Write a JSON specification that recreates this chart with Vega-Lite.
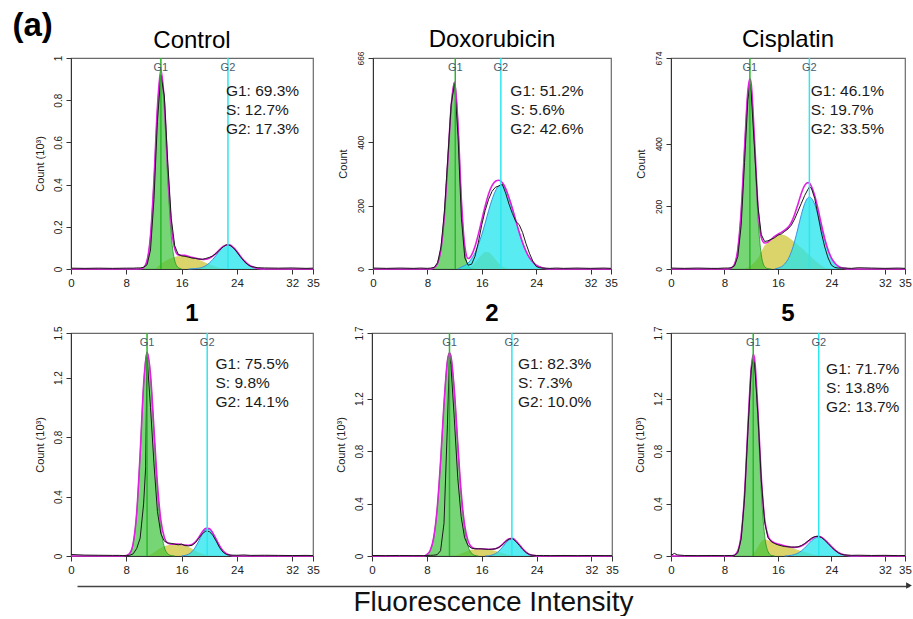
{
"$schema": "https://vega.github.io/schema/vega-lite/v6.json",
"padding": {"left": 12, "top": 10, "right": 0, "bottom": 0},
"title": {"text": "(a)", "anchor": "start", "frame": "bounds", "fontSize": 33, "fontWeight": "bold", "offset": -16, "dx": -21, "color": "#000"},
"config": {
 "font": "Liberation Sans",
 "view": {"stroke": "#6a6a6a", "strokeWidth": 1.2},
 "axis": {"grid": false, "domainColor": "#333", "tickColor": "#333", "labelColor": "#222", "titleColor": "#222", "tickSize": 5, "labelSeparation": -100},
 "axisX": {"labelFontSize": 11.5, "labelPadding": 3},
 "axisY": {"labelAngle": -90, "labelFontSize": 10, "labelPadding": 3, "titleFontSize": 11, "titleFontWeight": "normal", "titlePadding": 8},
 "title": {"color": "#000"}
},
"datasets": {
"h": [
{"p":"C","x":0,"f":0,"o":0.004},
{"p":"C","x":2,"o":0.003},
{"p":"C","x":4,"o":0.004},
{"p":"C","x":6,"o":0.003},
{"p":"C","x":8,"o":0.004},
{"p":"C","x":9,"o":0.004},
{"p":"C","x":9.5,"f":0,"o":0.005},
{"p":"C","x":10,"g":0,"f":0.001,"o":0.005},
{"p":"C","x":10.5,"g":0.007,"f":0.007,"o":0.008},
{"p":"C","x":11,"g":0.04,"f":0.04,"o":0.02},
{"p":"C","x":11.5,"g":0.158,"f":0.158,"o":0.09},
{"p":"C","x":12,"g":0.421,"s":0,"f":0.421,"o":0.33},
{"p":"C","x":12.5,"g":0.757,"s":0.01,"f":0.767,"o":0.7},
{"p":"C","x":13,"g":0.92,"s":0.025,"f":0.945,"o":0.92},
{"p":"C","x":13.5,"g":0.757,"s":0.035,"f":0.792,"o":0.82},
{"p":"C","x":14,"g":0.421,"s":0.045,"f":0.466,"o":0.5},
{"p":"C","x":14.5,"g":0.158,"s":0.052,"f":0.21,"o":0.24},
{"p":"C","x":15,"g":0.04,"s":0.057,"f":0.097,"o":0.11},
{"p":"C","x":15.5,"g":0.007,"s":0.06,"f":0.067,"o":0.07},
{"p":"C","x":16,"g":0,"s":0.065,"f":0.065,"o":0.062},
{"p":"C","x":16.5,"s":0.065,"f":0.065,"o":0.06},
{"p":"C","x":17,"s":0.06,"c":0,"f":0.06,"o":0.056},
{"p":"C","x":17.5,"s":0.055,"c":0.001,"f":0.055,"o":0.052},
{"p":"C","x":18,"s":0.05,"c":0.002,"f":0.052,"o":0.05},
{"p":"C","x":18.5,"s":0.044,"c":0.004,"f":0.048,"o":0.047},
{"p":"C","x":19,"s":0.037,"c":0.008,"f":0.045,"o":0.046},
{"p":"C","x":19.5,"s":0.03,"c":0.016,"f":0.046,"o":0.05},
{"p":"C","x":20,"s":0.023,"c":0.028,"f":0.051,"o":0.055},
{"p":"C","x":20.5,"s":0.016,"c":0.045,"f":0.061,"o":0.062},
{"p":"C","x":21,"s":0.01,"c":0.065,"f":0.075,"o":0.075},
{"p":"C","x":21.5,"s":0.005,"c":0.087,"f":0.092,"o":0.09},
{"p":"C","x":22,"s":0.002,"c":0.105,"f":0.107,"o":0.105},
{"p":"C","x":22.5,"s":0,"c":0.114,"f":0.114,"o":0.115},
{"p":"C","x":23,"c":0.113,"f":0.113,"o":0.112},
{"p":"C","x":23.5,"c":0.101,"f":0.101,"o":0.1},
{"p":"C","x":24,"c":0.083,"f":0.083,"o":0.08},
{"p":"C","x":24.5,"c":0.061,"f":0.061,"o":0.058},
{"p":"C","x":25,"c":0.041,"f":0.041,"o":0.038},
{"p":"C","x":25.5,"c":0.025,"f":0.025,"o":0.022},
{"p":"C","x":26,"c":0.014,"f":0.014,"o":0.012},
{"p":"C","x":27,"c":0.003,"f":0.003,"o":0.006},
{"p":"C","x":28,"c":0,"f":0,"o":0.005},
{"p":"C","x":30,"o":0.004},
{"p":"C","x":32,"o":0.005},
{"p":"C","x":34,"o":0.003},
{"p":"C","x":35,"f":0,"o":0.004},
{"p":"D","x":0,"f":0,"o":3},
{"p":"D","x":2,"o":2},
{"p":"D","x":4,"o":3},
{"p":"D","x":6,"o":2},
{"p":"D","x":7,"o":3},
{"p":"D","x":8,"o":2},
{"p":"D","x":8.5,"g":0,"f":0,"o":3},
{"p":"D","x":9,"g":4,"f":4,"o":5},
{"p":"D","x":9.5,"g":18,"f":18,"o":20},
{"p":"D","x":10,"g":64,"f":64,"o":70},
{"p":"D","x":10.5,"g":170,"f":170,"o":180},
{"p":"D","x":11,"g":339,"f":339,"o":350},
{"p":"D","x":11.5,"g":514,"f":514,"o":520},
{"p":"D","x":12,"g":590,"f":590,"o":585},
{"p":"D","x":12.5,"g":457,"c":0,"f":457,"o":420},
{"p":"D","x":13,"g":212,"s":0,"c":6,"f":218,"o":160},
{"p":"D","x":13.5,"g":60,"s":1,"c":11,"f":72,"o":35},
{"p":"D","x":14,"g":10,"s":4,"c":19,"f":33,"o":12},
{"p":"D","x":14.5,"g":1,"s":10,"c":33,"f":44,"o":15},
{"p":"D","x":15,"g":0,"s":20,"c":51,"f":71,"o":40},
{"p":"D","x":15.5,"s":33,"c":77,"f":110,"o":85},
{"p":"D","x":16,"s":46,"c":109,"f":155,"o":140},
{"p":"D","x":16.5,"s":54,"c":145,"f":199,"o":185},
{"p":"D","x":17,"s":53,"c":184,"f":237,"o":220},
{"p":"D","x":17.5,"s":44,"c":219,"f":263,"o":245},
{"p":"D","x":18,"s":31,"c":246,"f":277,"o":258},
{"p":"D","x":18.5,"s":18,"c":262,"f":280,"o":262},
{"p":"D","x":19,"s":9,"c":264,"f":273,"o":268},
{"p":"D","x":19.5,"s":4,"c":251,"f":255,"o":240},
{"p":"D","x":20,"s":0,"c":225,"f":225,"o":205},
{"p":"D","x":20.5,"c":191,"f":191,"o":175},
{"p":"D","x":21,"c":153,"f":153,"o":150},
{"p":"D","x":21.5,"c":116,"f":116,"o":140},
{"p":"D","x":22,"c":83,"f":83,"o":115},
{"p":"D","x":22.5,"c":56,"f":56,"o":80},
{"p":"D","x":23,"c":36,"f":36,"o":50},
{"p":"D","x":23.5,"c":22,"f":22,"o":25},
{"p":"D","x":24,"c":12,"f":12,"o":8},
{"p":"D","x":24.5,"c":7,"f":7,"o":4},
{"p":"D","x":25,"c":3,"f":3,"o":3},
{"p":"D","x":26,"c":0,"f":0,"o":2},
{"p":"D","x":27,"o":3},
{"p":"D","x":28,"o":2},
{"p":"D","x":30,"o":3},
{"p":"D","x":32,"o":2},
{"p":"D","x":34,"o":3},
{"p":"D","x":35,"f":0,"o":2},
{"p":"X","x":0,"f":0,"o":3},
{"p":"X","x":2,"o":2},
{"p":"X","x":4,"o":3},
{"p":"X","x":6,"o":2},
{"p":"X","x":7,"o":2},
{"p":"X","x":8,"o":3},
{"p":"X","x":8.5,"g":0,"f":0,"o":3},
{"p":"X","x":9,"g":3,"f":3,"o":4},
{"p":"X","x":9.5,"g":15,"f":15,"o":10},
{"p":"X","x":10,"g":64,"f":64,"o":40},
{"p":"X","x":10.5,"g":186,"f":186,"o":140},
{"p":"X","x":11,"g":385,"s":0,"f":385,"o":340},
{"p":"X","x":11.5,"g":564,"s":5,"f":569,"o":540},
{"p":"X","x":11.8,"g":600,"s":8,"f":608,"o":590},
{"p":"X","x":12,"g":579,"s":12,"f":591,"o":560},
{"p":"X","x":12.5,"g":388,"s":22,"f":410,"o":380},
{"p":"X","x":13,"g":167,"s":35,"f":202,"o":200},
{"p":"X","x":13.5,"g":46,"s":55,"f":101,"o":110},
{"p":"X","x":14,"g":8,"s":75,"f":83,"o":88},
{"p":"X","x":14.5,"g":1,"s":85,"f":86,"o":90},
{"p":"X","x":15,"g":0,"s":95,"f":95,"o":95},
{"p":"X","x":15.5,"s":103,"c":0,"f":104,"o":100},
{"p":"X","x":16,"s":108,"c":3,"f":111,"o":108},
{"p":"X","x":16.5,"s":110,"c":7,"f":117,"o":112},
{"p":"X","x":17,"s":108,"c":16,"f":124,"o":120},
{"p":"X","x":17.5,"s":102,"c":31,"f":133,"o":128},
{"p":"X","x":18,"s":94,"c":55,"f":149,"o":140},
{"p":"X","x":18.5,"s":86,"c":89,"f":175,"o":160},
{"p":"X","x":19,"s":77,"c":131,"f":208,"o":185},
{"p":"X","x":19.5,"s":68,"c":174,"f":242,"o":210},
{"p":"X","x":20,"s":58,"c":209,"f":267,"o":235},
{"p":"X","x":20.5,"s":48,"c":228,"f":276,"o":255},
{"p":"X","x":20.7,"s":45,"c":230,"f":275,"o":262},
{"p":"X","x":21,"s":38,"c":226,"f":264,"o":258},
{"p":"X","x":21.5,"s":28,"c":206,"f":234,"o":225},
{"p":"X","x":22,"s":19,"c":172,"f":191,"o":170},
{"p":"X","x":22.5,"s":11,"c":131,"f":142,"o":115},
{"p":"X","x":23,"s":5,"c":92,"f":97,"o":70},
{"p":"X","x":23.5,"s":2,"c":59,"f":61,"o":35},
{"p":"X","x":24,"s":0,"c":35,"f":35,"o":12},
{"p":"X","x":24.5,"c":19,"f":19,"o":5},
{"p":"X","x":25,"c":9,"f":9,"o":3},
{"p":"X","x":25.5,"c":4,"f":4,"o":3},
{"p":"X","x":26,"c":2,"f":2,"o":3},
{"p":"X","x":26.5,"c":0,"f":0},
{"p":"X","x":27,"o":2},
{"p":"X","x":28,"o":4},
{"p":"X","x":30,"o":3},
{"p":"X","x":32,"o":2},
{"p":"X","x":34,"o":3},
{"p":"X","x":35,"f":0,"o":2},
{"p":"1","x":0,"f":0,"o":0.01},
{"p":"1","x":1,"o":0.008},
{"p":"1","x":2,"o":0.006},
{"p":"1","x":4,"o":0.005},
{"p":"1","x":6,"o":0.004},
{"p":"1","x":7,"o":0.004},
{"p":"1","x":7.5,"g":0,"f":0,"o":0.003},
{"p":"1","x":8,"g":0.003,"f":0.003,"o":0.003},
{"p":"1","x":8.5,"g":0.018,"f":0.018,"o":0.005},
{"p":"1","x":9,"g":0.086,"f":0.086,"o":0.015},
{"p":"1","x":9.5,"g":0.289,"f":0.289,"o":0.05},
{"p":"1","x":10,"g":0.686,"f":0.686,"o":0.12},
{"p":"1","x":10.5,"g":1.152,"f":1.152,"o":0.35},
{"p":"1","x":10.8,"o":0.6},
{"p":"1","x":11,"g":1.37,"s":0,"f":1.37,"o":1.34},
{"p":"1","x":11.5,"g":1.209,"s":0.01,"f":1.219,"o":1.0},
{"p":"1","x":12,"g":0.831,"s":0.025,"f":0.856,"o":0.62},
{"p":"1","x":12.5,"g":0.445,"s":0.04,"f":0.485,"o":0.3},
{"p":"1","x":13,"g":0.185,"s":0.055,"f":0.24,"o":0.15},
{"p":"1","x":13.5,"g":0.06,"s":0.065,"f":0.125,"o":0.1},
{"p":"1","x":14,"g":0.015,"s":0.072,"f":0.087,"o":0.088},
{"p":"1","x":14.5,"g":0.003,"s":0.077,"f":0.08,"o":0.085},
{"p":"1","x":15,"g":0,"s":0.08,"f":0.08,"o":0.08},
{"p":"1","x":15.5,"s":0.08,"f":0.08,"o":0.075},
{"p":"1","x":16,"s":0.077,"c":0,"f":0.077,"o":0.08},
{"p":"1","x":16.5,"s":0.07,"c":0.004,"f":0.074,"o":0.07},
{"p":"1","x":17,"s":0.06,"c":0.012,"f":0.072,"o":0.068},
{"p":"1","x":17.5,"s":0.048,"c":0.029,"f":0.077,"o":0.072},
{"p":"1","x":18,"s":0.035,"c":0.06,"f":0.095,"o":0.09},
{"p":"1","x":18.5,"s":0.024,"c":0.103,"f":0.127,"o":0.12},
{"p":"1","x":19,"s":0.015,"c":0.148,"f":0.163,"o":0.15},
{"p":"1","x":19.5,"s":0.008,"c":0.179,"f":0.187,"o":0.168},
{"p":"1","x":20,"s":0.003,"c":0.182,"f":0.185,"o":0.165},
{"p":"1","x":20.5,"s":0,"c":0.156,"f":0.156,"o":0.14},
{"p":"1","x":21,"c":0.112,"f":0.112,"o":0.1},
{"p":"1","x":21.5,"c":0.068,"f":0.068,"o":0.055},
{"p":"1","x":22,"c":0.034,"f":0.034,"o":0.025},
{"p":"1","x":22.5,"c":0.015,"f":0.015,"o":0.01},
{"p":"1","x":23,"c":0.005,"f":0.005,"o":0.006},
{"p":"1","x":23.5,"c":0,"f":0},
{"p":"1","x":24,"o":0.005},
{"p":"1","x":25,"o":0.007},
{"p":"1","x":26,"o":0.004},
{"p":"1","x":28,"o":0.005},
{"p":"1","x":30,"o":0.004},
{"p":"1","x":32,"o":0.003},
{"p":"1","x":34,"o":0.004},
{"p":"1","x":35,"f":0,"o":0.003},
{"p":"2","x":0,"f":0,"o":0.004},
{"p":"2","x":2,"o":0.003},
{"p":"2","x":4,"o":0.004},
{"p":"2","x":6,"o":0.003},
{"p":"2","x":7,"o":0.003},
{"p":"2","x":7.5,"g":0,"f":0,"o":0.003},
{"p":"2","x":8,"g":0.011,"f":0.011,"o":0.004},
{"p":"2","x":8.5,"g":0.044,"f":0.044,"o":0.005},
{"p":"2","x":9,"g":0.141,"f":0.141,"o":0.006},
{"p":"2","x":9.5,"g":0.357,"f":0.357,"o":0.01},
{"p":"2","x":10,"g":0.72,"f":0.72,"o":0.04},
{"p":"2","x":10.5,"g":1.16,"f":1.16,"o":0.25},
{"p":"2","x":11,"g":1.488,"f":1.488,"o":1.0},
{"p":"2","x":11.3,"g":1.55,"f":1.55,"o":1.52},
{"p":"2","x":11.5,"g":1.525,"f":1.525,"o":1.46},
{"p":"2","x":12,"g":1.266,"s":0,"f":1.266,"o":1.05},
{"p":"2","x":12.5,"g":0.855,"s":0.01,"f":0.865,"o":0.6},
{"p":"2","x":13,"g":0.47,"s":0.02,"f":0.49,"o":0.3},
{"p":"2","x":13.5,"g":0.21,"s":0.03,"f":0.24,"o":0.14},
{"p":"2","x":14,"g":0.076,"s":0.04,"f":0.116,"o":0.08},
{"p":"2","x":14.5,"g":0.022,"s":0.048,"f":0.07,"o":0.06},
{"p":"2","x":15,"g":0.005,"s":0.052,"f":0.057,"o":0.055},
{"p":"2","x":15.5,"g":0,"s":0.055,"f":0.055,"o":0.055},
{"p":"2","x":16,"s":0.055,"f":0.055,"o":0.054},
{"p":"2","x":16.5,"s":0.053,"c":0,"f":0.053,"o":0.052},
{"p":"2","x":17,"s":0.05,"c":0.002,"f":0.052,"o":0.05},
{"p":"2","x":17.5,"s":0.045,"c":0.007,"f":0.052,"o":0.052},
{"p":"2","x":18,"s":0.038,"c":0.018,"f":0.056,"o":0.055},
{"p":"2","x":18.5,"s":0.03,"c":0.037,"f":0.067,"o":0.065},
{"p":"2","x":19,"s":0.022,"c":0.066,"f":0.088,"o":0.085},
{"p":"2","x":19.5,"s":0.015,"c":0.098,"f":0.113,"o":0.11},
{"p":"2","x":20,"s":0.009,"c":0.123,"f":0.132,"o":0.13},
{"p":"2","x":20.5,"s":0.004,"c":0.13,"f":0.134,"o":0.132},
{"p":"2","x":21,"s":0,"c":0.115,"f":0.115,"o":0.11},
{"p":"2","x":21.5,"c":0.085,"f":0.085,"o":0.08},
{"p":"2","x":22,"c":0.053,"f":0.053,"o":0.05},
{"p":"2","x":22.5,"c":0.028,"f":0.028,"o":0.025},
{"p":"2","x":23,"c":0.012,"f":0.012,"o":0.01},
{"p":"2","x":23.5,"c":0.005,"f":0.005,"o":0.005},
{"p":"2","x":24,"c":0.001,"f":0.001,"o":0.004},
{"p":"2","x":24.5,"c":0,"f":0},
{"p":"2","x":25,"o":0.004},
{"p":"2","x":26,"o":0.003},
{"p":"2","x":28,"o":0.004},
{"p":"2","x":30,"o":0.003},
{"p":"2","x":32,"o":0.004},
{"p":"2","x":34,"o":0.003},
{"p":"2","x":35,"f":0,"o":0.003},
{"p":"5","x":0,"f":0,"o":0.005},
{"p":"5","x":0.5,"o":0.02},
{"p":"5","x":1,"o":0.008},
{"p":"5","x":2,"o":0.004},
{"p":"5","x":4,"o":0.003},
{"p":"5","x":6,"o":0.004},
{"p":"5","x":8,"o":0.003},
{"p":"5","x":9,"g":0,"f":0,"o":0.004},
{"p":"5","x":9.5,"g":0.007,"f":0.007,"o":0.005},
{"p":"5","x":10,"g":0.039,"f":0.039,"o":0.025},
{"p":"5","x":10.5,"g":0.161,"f":0.161,"o":0.13},
{"p":"5","x":11,"g":0.471,"f":0.471,"o":0.44},
{"p":"5","x":11.5,"g":0.976,"f":0.976,"o":0.95},
{"p":"5","x":12,"g":1.429,"s":0,"f":1.429,"o":1.42},
{"p":"5","x":12.3,"g":1.52,"s":0.018,"f":1.538,"o":1.5},
{"p":"5","x":12.5,"g":1.473,"s":0.03,"f":1.503,"o":1.46},
{"p":"5","x":13,"g":1.037,"s":0.07,"f":1.107,"o":1.08},
{"p":"5","x":13.5,"g":0.494,"s":0.11,"f":0.604,"o":0.58},
{"p":"5","x":14,"g":0.159,"s":0.125,"f":0.284,"o":0.26},
{"p":"5","x":14.5,"g":0.035,"s":0.12,"f":0.155,"o":0.14},
{"p":"5","x":15,"g":0.005,"s":0.11,"f":0.115,"o":0.11},
{"p":"5","x":15.5,"g":0,"s":0.1,"f":0.1,"o":0.095},
{"p":"5","x":16,"s":0.092,"f":0.092,"o":0.085},
{"p":"5","x":16.5,"s":0.085,"f":0.085,"o":0.078},
{"p":"5","x":17,"s":0.078,"c":0,"f":0.078,"o":0.072},
{"p":"5","x":17.5,"s":0.07,"c":0.002,"f":0.072,"o":0.07},
{"p":"5","x":18,"s":0.062,"c":0.005,"f":0.067,"o":0.068},
{"p":"5","x":18.5,"s":0.054,"c":0.012,"f":0.066,"o":0.068},
{"p":"5","x":19,"s":0.046,"c":0.022,"f":0.068,"o":0.07},
{"p":"5","x":19.5,"s":0.038,"c":0.039,"f":0.077,"o":0.08},
{"p":"5","x":20,"s":0.03,"c":0.061,"f":0.091,"o":0.095},
{"p":"5","x":20.5,"s":0.023,"c":0.088,"f":0.111,"o":0.115},
{"p":"5","x":21,"s":0.016,"c":0.115,"f":0.131,"o":0.135},
{"p":"5","x":21.5,"s":0.01,"c":0.135,"f":0.145,"o":0.148},
{"p":"5","x":22,"s":0.005,"c":0.145,"f":0.15,"o":0.15},
{"p":"5","x":22.5,"s":0.002,"c":0.141,"f":0.143,"o":0.142},
{"p":"5","x":23,"s":0,"c":0.124,"f":0.124,"o":0.12},
{"p":"5","x":23.5,"c":0.099,"f":0.099,"o":0.095},
{"p":"5","x":24,"c":0.072,"f":0.072,"o":0.068},
{"p":"5","x":24.5,"c":0.047,"f":0.047,"o":0.045},
{"p":"5","x":25,"c":0.028,"f":0.028,"o":0.025},
{"p":"5","x":25.5,"c":0.015,"f":0.015,"o":0.012},
{"p":"5","x":26,"c":0.007,"f":0.007,"o":0.008},
{"p":"5","x":27,"c":0.001,"f":0.001,"o":0.005},
{"p":"5","x":28,"c":0,"f":0,"o":0.006},
{"p":"5","x":30,"o":0.004},
{"p":"5","x":32,"o":0.005},
{"p":"5","x":34,"o":0.003},
{"p":"5","x":35,"f":0,"o":0.004}
],
"m": [
{"p":"C","k":"G1","x":13},{"p":"C","k":"G2","x":22.7},
{"p":"D","k":"G1","x":12.1},{"p":"D","k":"G2","x":18.8},
{"p":"X","k":"G1","x":11.8},{"p":"X","k":"G2","x":20.7},
{"p":"1","k":"G1","x":11.0},{"p":"1","k":"G2","x":19.7},
{"p":"2","k":"G1","x":11.3},{"p":"2","k":"G2","x":20.4},
{"p":"5","k":"G1","x":12.3},{"p":"5","k":"G2","x":22.1}
],
"a": [
{"p":"C","t":"G1: 69.3%\nS: 12.7%\nG2: 17.3%"},
{"p":"D","t":"G1: 51.2%\nS: 5.6%\nG2: 42.6%"},
{"p":"X","t":"G1: 46.1%\nS: 19.7%\nG2: 33.5%"},
{"p":"1","t":"G1: 75.5%\nS: 9.8%\nG2: 14.1%"},
{"p":"2","t":"G1: 82.3%\nS: 7.3%\nG2: 10.0%"},
{"p":"5","t":"G1: 71.7%\nS: 13.8%\nG2: 13.7%"}
]
},
"vconcat": [
{"vconcat": [
{"hconcat": [
{"width": 242, "height": 211,
 "title": {"text": "Control", "fontSize": 24, "fontWeight": "normal", "offset": 2},
 "layer": [
  {"data": {"name": "h"},
   "transform": [{"filter": "datum.p == 'C'"}, {"fold": ["s","g","c","f","o"], "as": ["k","v"]}, {"filter": "isValid(datum.v)"}],
   "encoding": {
    "x": {"field": "x", "type": "quantitative", "scale": {"domain": [0,35], "nice": false, "zero": false}, "axis": {"title": null, "format": "d", "labelFlush": false, "labelSeparation": -100, "values": [0,8,16,24,32,35]}},
    "y": {"field": "v", "type": "quantitative", "scale": {"domain": [0,1], "nice": false}, "axis": {"title": "Count (10³)", "format": ".1~f", "labelFlush": false, "labelSeparation": -100, "values": [0,0.2,0.4,0.6,0.8,1]}}
   },
   "layer": [
    {"transform": [{"filter": "datum.k == 's'"}], "mark": {"type": "area", "color": "#cdc63a", "opacity": 0.75, "interpolate": "monotone"}},
    {"transform": [{"filter": "datum.k == 'g'"}], "mark": {"type": "area", "color": "#3cc43c", "opacity": 0.7, "interpolate": "monotone", "line": {"color": "#1f8f1f", "strokeWidth": 0.8}}},
    {"transform": [{"filter": "datum.k == 'c'"}], "mark": {"type": "area", "color": "#22e4ee", "opacity": 0.75, "interpolate": "monotone", "line": {"color": "#3a8fe0", "strokeWidth": 1}}},
    {"transform": [{"filter": "datum.k == 'f'"}], "mark": {"type": "line", "color": "#e020e0", "strokeWidth": 1.6, "interpolate": "monotone"}},
    {"transform": [{"filter": "datum.k == 'o'"}], "mark": {"type": "line", "color": "#1a1a1a", "strokeWidth": 1}}
   ]},
  {"data": {"name": "m"},
   "transform": [{"filter": "datum.p == 'C'"}],
   "layer": [
    {"mark": {"type": "rule", "strokeWidth": 1.5}, "encoding": {"x": {"field": "x", "type": "quantitative"}, "color": {"field": "k", "type": "nominal", "scale": {"domain": ["G1","G2"], "range": ["#2ab52a","#2ee6ee"]}, "legend": null}}},
    {"mark": {"type": "text", "baseline": "top", "dy": 4, "fontSize": 11, "color": "#4a5b6e"}, "encoding": {"x": {"field": "x", "type": "quantitative"}, "y": {"datum": 1, "type": "quantitative"}, "text": {"field": "k"}}}
   ]},
  {"data": {"name": "a"},
   "transform": [{"filter": "datum.p == 'C'"}],
   "mark": {"type": "text", "align": "left", "baseline": "alphabetic", "fontSize": 15.5, "lineBreak": "\n", "lineHeight": 19, "color": "#1a1a1a"},
   "encoding": {"x": {"datum": 22.4, "type": "quantitative"}, "y": {"datum": 0.818, "type": "quantitative"}, "text": {"field": "t"}}}
 ]},
{"width": 238, "height": 211,
 "title": {"text": "Doxorubicin", "fontSize": 24, "fontWeight": "normal", "offset": -1},
 "layer": [
  {"data": {"name": "h"},
   "transform": [{"filter": "datum.p == 'D'"}, {"fold": ["s","g","c","f","o"], "as": ["k","v"]}, {"filter": "isValid(datum.v)"}],
   "encoding": {
    "x": {"field": "x", "type": "quantitative", "scale": {"domain": [0,35], "nice": false, "zero": false}, "axis": {"title": null, "format": "d", "labelFlush": false, "labelSeparation": -100, "values": [0,8,16,24,32,35]}},
    "y": {"field": "v", "type": "quantitative", "scale": {"domain": [0,666], "nice": false}, "axis": {"title": "Count", "format": "d", "labelFontSize": 8.5, "labelFlush": false, "labelSeparation": -100, "values": [0,100,200,300,400,500,666]}}
   },
   "layer": [
    {"transform": [{"filter": "datum.k == 's'"}], "mark": {"type": "area", "color": "#cdc63a", "opacity": 0.75, "interpolate": "monotone"}},
    {"transform": [{"filter": "datum.k == 'g'"}], "mark": {"type": "area", "color": "#3cc43c", "opacity": 0.7, "interpolate": "monotone", "line": {"color": "#1f8f1f", "strokeWidth": 0.8}}},
    {"transform": [{"filter": "datum.k == 'c'"}], "mark": {"type": "area", "color": "#22e4ee", "opacity": 0.75, "interpolate": "monotone", "line": {"color": "#3a8fe0", "strokeWidth": 1}}},
    {"transform": [{"filter": "datum.k == 'f'"}], "mark": {"type": "line", "color": "#e020e0", "strokeWidth": 1.6, "interpolate": "monotone"}},
    {"transform": [{"filter": "datum.k == 'o'"}], "mark": {"type": "line", "color": "#1a1a1a", "strokeWidth": 1}}
   ]},
  {"data": {"name": "m"},
   "transform": [{"filter": "datum.p == 'D'"}],
   "layer": [
    {"mark": {"type": "rule", "strokeWidth": 1.5}, "encoding": {"x": {"field": "x", "type": "quantitative"}, "color": {"field": "k", "type": "nominal", "scale": {"domain": ["G1","G2"], "range": ["#2ab52a","#2ee6ee"]}, "legend": null}}},
    {"mark": {"type": "text", "baseline": "top", "dy": 4, "fontSize": 11, "color": "#4a5b6e"}, "encoding": {"x": {"field": "x", "type": "quantitative"}, "y": {"datum": 666, "type": "quantitative"}, "text": {"field": "k"}}}
   ]},
  {"data": {"name": "a"},
   "transform": [{"filter": "datum.p == 'D'"}],
   "mark": {"type": "text", "align": "left", "baseline": "alphabetic", "fontSize": 15.5, "lineBreak": "\n", "lineHeight": 19, "color": "#1a1a1a"},
   "encoding": {"x": {"datum": 20.2, "type": "quantitative"}, "y": {"datum": 547, "type": "quantitative"}, "text": {"field": "t"}}}
 ]},
{"width": 234, "height": 211,
 "title": {"text": "Cisplatin", "fontSize": 24, "fontWeight": "normal", "offset": -1},
 "layer": [
  {"data": {"name": "h"},
   "transform": [{"filter": "datum.p == 'X'"}, {"fold": ["s","g","c","f","o"], "as": ["k","v"]}, {"filter": "isValid(datum.v)"}],
   "encoding": {
    "x": {"field": "x", "type": "quantitative", "scale": {"domain": [0,35], "nice": false, "zero": false}, "axis": {"title": null, "format": "d", "labelFlush": false, "labelSeparation": -100, "values": [0,8,16,24,32,35]}},
    "y": {"field": "v", "type": "quantitative", "scale": {"domain": [0,674], "nice": false}, "axis": {"title": "Count", "format": "d", "labelFontSize": 8.5, "labelFlush": false, "labelSeparation": -100, "values": [0,100,200,300,400,500,674]}}
   },
   "layer": [
    {"transform": [{"filter": "datum.k == 's'"}], "mark": {"type": "area", "color": "#cdc63a", "opacity": 0.75, "interpolate": "monotone"}},
    {"transform": [{"filter": "datum.k == 'g'"}], "mark": {"type": "area", "color": "#3cc43c", "opacity": 0.7, "interpolate": "monotone", "line": {"color": "#1f8f1f", "strokeWidth": 0.8}}},
    {"transform": [{"filter": "datum.k == 'c'"}], "mark": {"type": "area", "color": "#22e4ee", "opacity": 0.75, "interpolate": "monotone", "line": {"color": "#3a8fe0", "strokeWidth": 1}}},
    {"transform": [{"filter": "datum.k == 'f'"}], "mark": {"type": "line", "color": "#e020e0", "strokeWidth": 1.6, "interpolate": "monotone"}},
    {"transform": [{"filter": "datum.k == 'o'"}], "mark": {"type": "line", "color": "#1a1a1a", "strokeWidth": 1}}
   ]},
  {"data": {"name": "m"},
   "transform": [{"filter": "datum.p == 'X'"}],
   "layer": [
    {"mark": {"type": "rule", "strokeWidth": 1.5}, "encoding": {"x": {"field": "x", "type": "quantitative"}, "color": {"field": "k", "type": "nominal", "scale": {"domain": ["G1","G2"], "range": ["#2ab52a","#2ee6ee"]}, "legend": null}}},
    {"mark": {"type": "text", "baseline": "top", "dy": 4, "fontSize": 11, "color": "#4a5b6e"}, "encoding": {"x": {"field": "x", "type": "quantitative"}, "y": {"datum": 674, "type": "quantitative"}, "text": {"field": "k"}}}
   ]},
  {"data": {"name": "a"},
   "transform": [{"filter": "datum.p == 'X'"}],
   "mark": {"type": "text", "align": "left", "baseline": "alphabetic", "fontSize": 15.5, "lineBreak": "\n", "lineHeight": 19, "color": "#1a1a1a"},
   "encoding": {"x": {"datum": 20.9, "type": "quantitative"}, "y": {"datum": 552, "type": "quantitative"}, "text": {"field": "t"}}}
 ]}
], "spacing": 60, "bounds": "flush"},
{"hconcat": [
{"width": 242, "height": 223,
 "title": {"text": "1", "fontSize": 24, "fontWeight": "bold", "offset": 0},
 "layer": [
  {"data": {"name": "h"},
   "transform": [{"filter": "datum.p == '1'"}, {"fold": ["s","g","c","f","o"], "as": ["k","v"]}, {"filter": "isValid(datum.v)"}],
   "encoding": {
    "x": {"field": "x", "type": "quantitative", "scale": {"domain": [0,35], "nice": false, "zero": false}, "axis": {"title": null, "format": "d", "labelFlush": false, "labelSeparation": -100, "values": [0,8,16,24,32,35]}},
    "y": {"field": "v", "type": "quantitative", "scale": {"domain": [0,1.5], "nice": false}, "axis": {"title": "Count (10³)", "format": ".1~f", "labelFlush": false, "labelSeparation": -100, "values": [0,0.4,0.8,1.2,1.5]}}
   },
   "layer": [
    {"transform": [{"filter": "datum.k == 's'"}], "mark": {"type": "area", "color": "#cdc63a", "opacity": 0.75, "interpolate": "monotone"}},
    {"transform": [{"filter": "datum.k == 'g'"}], "mark": {"type": "area", "color": "#3cc43c", "opacity": 0.7, "interpolate": "monotone", "line": {"color": "#1f8f1f", "strokeWidth": 0.8}}},
    {"transform": [{"filter": "datum.k == 'c'"}], "mark": {"type": "area", "color": "#22e4ee", "opacity": 0.75, "interpolate": "monotone", "line": {"color": "#3a8fe0", "strokeWidth": 1}}},
    {"transform": [{"filter": "datum.k == 'f'"}], "mark": {"type": "line", "color": "#e020e0", "strokeWidth": 1.6, "interpolate": "monotone"}},
    {"transform": [{"filter": "datum.k == 'o'"}], "mark": {"type": "line", "color": "#1a1a1a", "strokeWidth": 1}}
   ]},
  {"data": {"name": "m"},
   "transform": [{"filter": "datum.p == '1'"}],
   "layer": [
    {"mark": {"type": "rule", "strokeWidth": 1.5}, "encoding": {"x": {"field": "x", "type": "quantitative"}, "color": {"field": "k", "type": "nominal", "scale": {"domain": ["G1","G2"], "range": ["#2ab52a","#2ee6ee"]}, "legend": null}}},
    {"mark": {"type": "text", "baseline": "top", "dy": 4, "fontSize": 11, "color": "#4a5b6e"}, "encoding": {"x": {"field": "x", "type": "quantitative"}, "y": {"datum": 1.5, "type": "quantitative"}, "text": {"field": "k"}}}
   ]},
  {"data": {"name": "a"},
   "transform": [{"filter": "datum.p == '1'"}],
   "mark": {"type": "text", "align": "left", "baseline": "alphabetic", "fontSize": 15.5, "lineBreak": "\n", "lineHeight": 19, "color": "#1a1a1a"},
   "encoding": {"x": {"datum": 20.9, "type": "quantitative"}, "y": {"datum": 1.256, "type": "quantitative"}, "text": {"field": "t"}}}
 ]},
{"width": 240, "height": 223,
 "title": {"text": "2", "fontSize": 24, "fontWeight": "bold", "offset": 0},
 "layer": [
  {"data": {"name": "h"},
   "transform": [{"filter": "datum.p == '2'"}, {"fold": ["s","g","c","f","o"], "as": ["k","v"]}, {"filter": "isValid(datum.v)"}],
   "encoding": {
    "x": {"field": "x", "type": "quantitative", "scale": {"domain": [0,35], "nice": false, "zero": false}, "axis": {"title": null, "format": "d", "labelFlush": false, "labelSeparation": -100, "values": [0,8,16,24,32,35]}},
    "y": {"field": "v", "type": "quantitative", "scale": {"domain": [0,1.7], "nice": false}, "axis": {"title": "Count (10³)", "format": ".1~f", "labelFlush": false, "labelSeparation": -100, "values": [0,0.4,0.8,1.2,1.7]}}
   },
   "layer": [
    {"transform": [{"filter": "datum.k == 's'"}], "mark": {"type": "area", "color": "#cdc63a", "opacity": 0.75, "interpolate": "monotone"}},
    {"transform": [{"filter": "datum.k == 'g'"}], "mark": {"type": "area", "color": "#3cc43c", "opacity": 0.7, "interpolate": "monotone", "line": {"color": "#1f8f1f", "strokeWidth": 0.8}}},
    {"transform": [{"filter": "datum.k == 'c'"}], "mark": {"type": "area", "color": "#22e4ee", "opacity": 0.75, "interpolate": "monotone", "line": {"color": "#3a8fe0", "strokeWidth": 1}}},
    {"transform": [{"filter": "datum.k == 'f'"}], "mark": {"type": "line", "color": "#e020e0", "strokeWidth": 1.6, "interpolate": "monotone"}},
    {"transform": [{"filter": "datum.k == 'o'"}], "mark": {"type": "line", "color": "#1a1a1a", "strokeWidth": 1}}
   ]},
  {"data": {"name": "m"},
   "transform": [{"filter": "datum.p == '2'"}],
   "layer": [
    {"mark": {"type": "rule", "strokeWidth": 1.5}, "encoding": {"x": {"field": "x", "type": "quantitative"}, "color": {"field": "k", "type": "nominal", "scale": {"domain": ["G1","G2"], "range": ["#2ab52a","#2ee6ee"]}, "legend": null}}},
    {"mark": {"type": "text", "baseline": "top", "dy": 4, "fontSize": 11, "color": "#4a5b6e"}, "encoding": {"x": {"field": "x", "type": "quantitative"}, "y": {"datum": 1.7, "type": "quantitative"}, "text": {"field": "k"}}}
   ]},
  {"data": {"name": "a"},
   "transform": [{"filter": "datum.p == '2'"}],
   "mark": {"type": "text", "align": "left", "baseline": "alphabetic", "fontSize": 15.5, "lineBreak": "\n", "lineHeight": 19, "color": "#1a1a1a"},
   "encoding": {"x": {"datum": 21.3, "type": "quantitative"}, "y": {"datum": 1.423, "type": "quantitative"}, "text": {"field": "t"}}}
 ]},
{"width": 234, "height": 223,
 "title": {"text": "5", "fontSize": 24, "fontWeight": "bold", "offset": 0},
 "layer": [
  {"data": {"name": "h"},
   "transform": [{"filter": "datum.p == '5'"}, {"fold": ["s","g","c","f","o"], "as": ["k","v"]}, {"filter": "isValid(datum.v)"}],
   "encoding": {
    "x": {"field": "x", "type": "quantitative", "scale": {"domain": [0,35], "nice": false, "zero": false}, "axis": {"title": null, "format": "d", "labelFlush": false, "labelSeparation": -100, "values": [0,8,16,24,32,35]}},
    "y": {"field": "v", "type": "quantitative", "scale": {"domain": [0,1.7], "nice": false}, "axis": {"title": "Count (10³)", "format": ".1~f", "labelFlush": false, "labelSeparation": -100, "values": [0,0.4,0.8,1.2,1.7]}}
   },
   "layer": [
    {"transform": [{"filter": "datum.k == 's'"}], "mark": {"type": "area", "color": "#cdc63a", "opacity": 0.75, "interpolate": "monotone"}},
    {"transform": [{"filter": "datum.k == 'g'"}], "mark": {"type": "area", "color": "#3cc43c", "opacity": 0.7, "interpolate": "monotone", "line": {"color": "#1f8f1f", "strokeWidth": 0.8}}},
    {"transform": [{"filter": "datum.k == 'c'"}], "mark": {"type": "area", "color": "#22e4ee", "opacity": 0.75, "interpolate": "monotone", "line": {"color": "#3a8fe0", "strokeWidth": 1}}},
    {"transform": [{"filter": "datum.k == 'f'"}], "mark": {"type": "line", "color": "#e020e0", "strokeWidth": 1.6, "interpolate": "monotone"}},
    {"transform": [{"filter": "datum.k == 'o'"}], "mark": {"type": "line", "color": "#1a1a1a", "strokeWidth": 1}}
   ]},
  {"data": {"name": "m"},
   "transform": [{"filter": "datum.p == '5'"}],
   "layer": [
    {"mark": {"type": "rule", "strokeWidth": 1.5}, "encoding": {"x": {"field": "x", "type": "quantitative"}, "color": {"field": "k", "type": "nominal", "scale": {"domain": ["G1","G2"], "range": ["#2ab52a","#2ee6ee"]}, "legend": null}}},
    {"mark": {"type": "text", "baseline": "top", "dy": 4, "fontSize": 11, "color": "#4a5b6e"}, "encoding": {"x": {"field": "x", "type": "quantitative"}, "y": {"datum": 1.7, "type": "quantitative"}, "text": {"field": "k"}}}
   ]},
  {"data": {"name": "a"},
   "transform": [{"filter": "datum.p == '5'"}],
   "mark": {"type": "text", "align": "left", "baseline": "alphabetic", "fontSize": 15.5, "lineBreak": "\n", "lineHeight": 19, "color": "#1a1a1a"},
   "encoding": {"x": {"datum": 23.2, "type": "quantitative"}, "y": {"datum": 1.39, "type": "quantitative"}, "text": {"field": "t"}}}
 ]}
], "spacing": 59, "bounds": "flush"}
], "spacing": 11},
{"width": 840, "height": 1,
 "view": {"stroke": null},
 "data": {"values": [{}]},
 "mark": {"type": "point", "shape": "triangle-right", "filled": true, "color": "#333", "size": 45, "opacity": 1},
 "encoding": {
  "x": {"datum": 1, "type": "quantitative", "scale": {"domain": [0,1], "range": [6, 838]}, "axis": {"title": "Fluorescence Intensity", "labels": false, "ticks": false, "domainColor": "#444", "domainWidth": 1.3, "titleFontSize": 28, "titleFontWeight": "normal", "titlePadding": 2, "titleColor": "#111"}}
 }}
],
"spacing": 5
}
